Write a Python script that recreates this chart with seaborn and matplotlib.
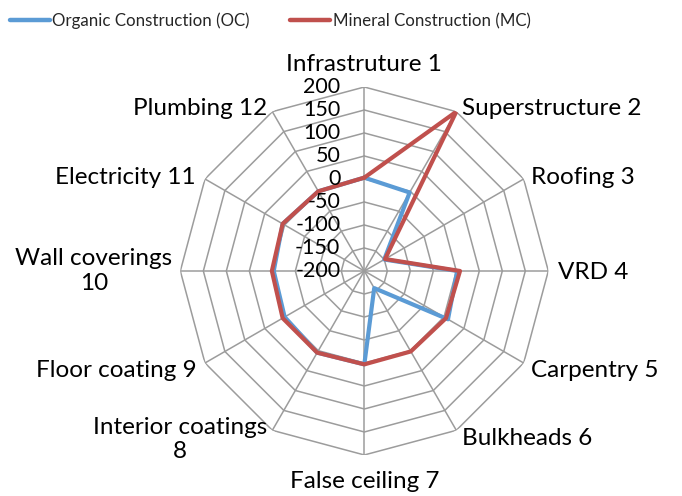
"""Radar chart: organic vs mineral construction by building lot."""

import numpy as np
import pandas as pd
import matplotlib
matplotlib.use("Agg")
import matplotlib.pyplot as plt
from matplotlib.transforms import offset_copy
import seaborn as sns

# ── Data ─────────────────────────────────────────────────────────────
categories = [
    "Infrastruture 1", "Superstructure 2", "Roofing 3", "VRD 4",
    "Carpentry 5", "Bulkheads 6", "False ceiling 7", "Interior coatings\n8",
    "Floor coating 9", "Wall coverings\n10", "Electricity 11", "Plumbing 12",
]
oc_values = [3, -3, -150, 2, 10, -157, 3, 5, 0, -3, 5, 0]
mc_values = [3, 200, -148, 8, 5, 2, 3, 5, 5, 1, 5, 0]
series_names = ["Organic Construction (OC)", "Mineral Construction (MC)"]
radial_ticks = [200, 150, 100, 50, 0, -50, -100, -150, -200]

# label placement: (dx, dy) in pixels, horizontal alignment
label_pos = [
    ((0, 22), "center"), ((6, 3), "left"), ((7, 1), "left"), ((10, -2), "left"),
    ((7, -8), "left"), ((6, -8), "left"), ((0, -27), "center"), ((-5, -9), "right"),
    ((-8, -8), "right"), ((-8, 0), "right"), ((-9, 1), "right"), ((-5, 3), "right"),
]

sns.set_theme(style="white")
plt.rcParams["font.family"] = ["Lato", "DejaVu Sans"]
FS_CAT = 17.5
FS_TICK = 15.5
FS_LEG = 12.2

n = len(categories)
angles = np.linspace(0, 2 * np.pi, n, endpoint=False)
closed = np.append(angles, 2 * np.pi)

df = pd.DataFrame({
    "theta": np.concatenate([closed, closed]),
    "value": np.concatenate([oc_values + oc_values[:1], mc_values + mc_values[:1]]),
    "series": [series_names[0]] * (n + 1) + [series_names[1]] * (n + 1),
})

fig = plt.figure(figsize=(6.82, 4.96), dpi=100)
ax = fig.add_axes([0.2644, 0.0827, 0.5396, 0.7419], projection="polar")
ax.set_theta_zero_location("N")
ax.set_theta_direction(-1)

# polygon grid
grid_kw = dict(color="#9c9c9c", lw=1.1, zorder=1)
for level in radial_ticks[:-1]:
    ax.plot(closed, [level] * (n + 1), **grid_kw)
for a in angles:
    ax.plot([a, a], [-200, 200], **grid_kw)

sns.lineplot(
    data=df, x="theta", y="value", hue="series", hue_order=series_names,
    palette=["#5B9BD5", "#C0504D"], sort=False, estimator=None,
    linewidth=3.0, ax=ax, zorder=3,
)

ax.set_ylim(-200, 200)
ax.set_xticks([])
ax.set_yticks([])
ax.grid(False)
ax.spines["polar"].set_visible(False)
ax.set_xlabel("")
ax.set_ylabel("")

# radial tick labels along the vertical axis
rt = offset_copy(ax.transData, fig=fig, x=-24, y=0, units="dots")
for level in radial_ticks:
    ax.text(0, level, str(level), transform=rt, ha="right", va="center",
            fontsize=FS_TICK, color="black", zorder=4)

# category labels at the outer vertices
for a, label, ((dx, dy), ha) in zip(angles, categories, label_pos):
    ax.annotate(label, xy=(a, 200), xytext=(dx, dy), textcoords="offset pixels",
                ha=ha, va="center", multialignment="center",
                fontsize=FS_CAT, color="black", annotation_clip=False)

handles, labels = ax.get_legend_handles_labels()
ax.get_legend().remove()
for h in handles:
    h.set_linewidth(3.2)
fig.legend(handles, labels, loc="upper left", bbox_to_anchor=(-0.008, 1.005),
           ncol=2, frameon=False, fontsize=FS_LEG, handlelength=2.35,
           handletextpad=0.15, columnspacing=2.4)

fig.savefig("out.png", dpi=100)
